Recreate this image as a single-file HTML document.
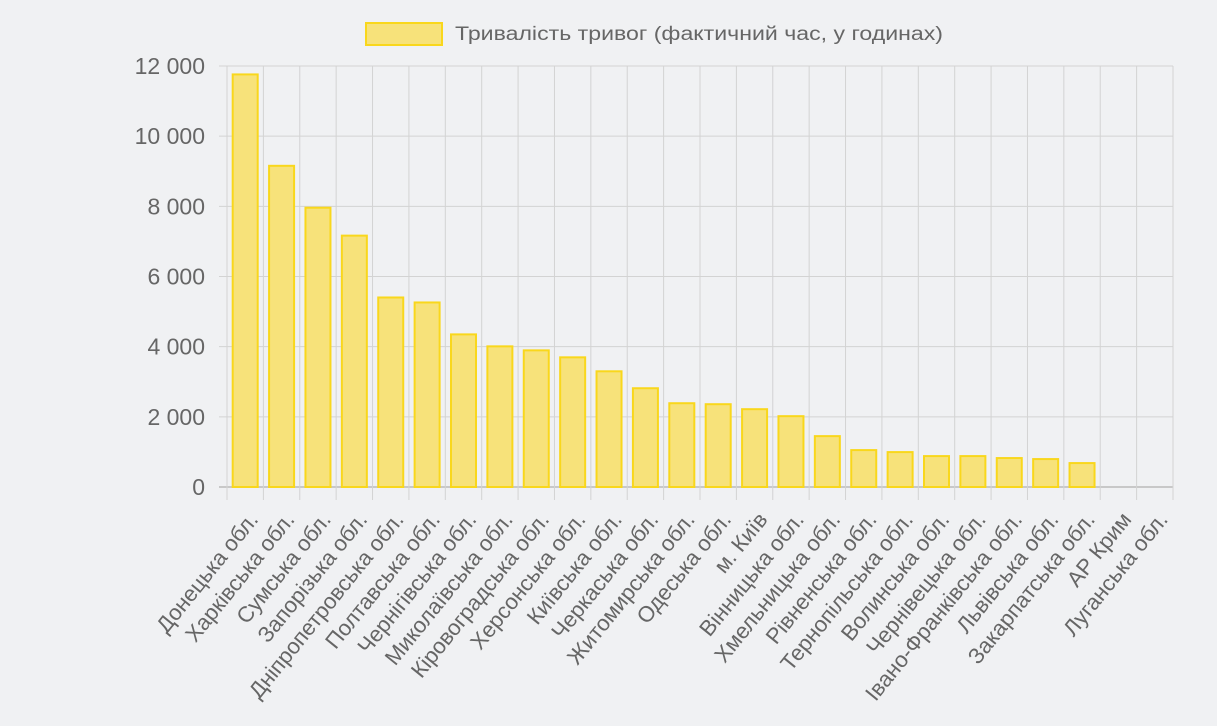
<!DOCTYPE html>
<html><head><meta charset="utf-8"><style>
html,body{margin:0;padding:0;background:#f0f1f3;}
svg{display:block;font-family:"Liberation Sans","DejaVu Sans",sans-serif;}
</style></head><body>
<svg width="1217" height="726" xmlns="http://www.w3.org/2000/svg">
<rect width="1217" height="726" fill="#f0f1f3"/>
<rect x="366" y="23" width="76" height="22" fill="#f7e27a" stroke="#f9d71c" stroke-width="2"/>
<text x="455" y="40" font-size="19" fill="#666" textLength="488" lengthAdjust="spacingAndGlyphs">Тривалість тривог (фактичний час, у годинах)</text>
<g id="g"></g>
</svg>
<script>
const ns="http://www.w3.org/2000/svg",g=document.getElementById('g');
function el(t,a,txt){const e=document.createElementNS(ns,t);for(const k in a)e.setAttribute(k,a[k]);if(txt)e.textContent=txt;g.appendChild(e);return e;}
const x0=227,x1=1173,y0=487,yt=66,n=26,w=(x1-x0)/n;
const names=["Донецька обл.","Харківська обл.","Сумська обл.","Запорізька обл.","Дніпропетровська обл.","Полтавська обл.","Чернігівська обл.","Миколаївська обл.","Кіровоградська обл.","Херсонська обл.","Київська обл.","Черкаська обл.","Житомирська обл.","Одеська обл.","м. Київ","Вінницька обл.","Хмельницька обл.","Рівненська обл.","Тернопільська обл.","Волинська обл.","Чернівецька обл.","Івано-Франківська обл.","Львівська обл.","Закарпатська обл.","АР Крим","Луганська обл."];
const v=[11760,9155,7961,7165,5402,5260,4350,4009,3895,3696,3298,2815,2388,2360,2218,2019,1450,1052,995,881,881,825,796,682,0,0];
const s=(y0-yt)/12000;
for(let i=0;i<=6;i++){const y=y0-i*2000*s;
el('line',{x1:x0-8,x2:x1,y1:y,y2:y,stroke:i==0?'#c8c8c8':'#d3d3d3','stroke-width':i==0?2:1});
el('text',{x:x0-22,y:y+8,'text-anchor':'end','font-size':23,fill:'#666'},i==0?'0':(i*2)+' 000');}
for(let i=0;i<=n;i++){const x=x0+i*w;el('line',{x1:x,x2:x,y1:yt,y2:y0+13,stroke:'#d3d3d3','stroke-width':1});}
for(let i=0;i<n;i++){const cx=x0+(i+0.5)*w;
if(v[i]>0){const h=v[i]*s;el('rect',{x:cx-12.5,y:y0-h,width:25,height:h,fill:'#f7e27a',stroke:'#f9d71c','stroke-width':2});}
const tx=cx+14,ty=y0+33;
el('text',{x:tx,y:ty,'text-anchor':'end','font-size':22,fill:'#666',transform:`rotate(-51 ${tx} ${ty})`},names[i]);}
</script>
</body></html>
